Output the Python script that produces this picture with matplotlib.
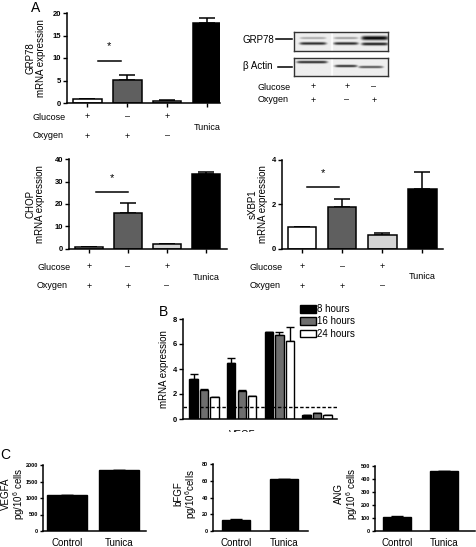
import numpy as np
import matplotlib
matplotlib.use('Agg')
import matplotlib.pyplot as plt
import matplotlib.transforms as mtransforms
from matplotlib.patches import Patch, Rectangle

plt.rcParams['font.family'] = ['Liberation Sans', 'DejaVu Sans']
plt.rcParams['mathtext.default'] = 'regular'

W, H = 477, 547

# ---- data ----
conditions = ['Glucose+/O2+', 'Glucose-/O2+', 'Glucose+/O2-', 'Tunica']
glucose_signs = ['+', '–', '+']
oxygen_signs = ['+', '+', '–']
bar_colors = ['white', '#5f5f5f', '#d4d4d4', 'black']

grp78 = [1.0, 5.2, 0.5, 17.7]
grp78_err = [0.0, 1.0, 0.15, 1.1]
chop = [1.0, 15.8, 2.0, 33.2]
chop_err = [0.0, 4.5, 0.4, 1.0]
sxbp1 = [1.0, 1.9, 0.65, 2.7]
sxbp1_err = [0.0, 0.35, 0.05, 0.75]

blot_glucose = ['+', '+', '–']
blot_oxygen = ['+', '–', '+']

hours = ['8 hours', '16 hours', '24 hours']
hour_colors = ['black', '#6e6e6e', 'white']
genes_b = ['', 'VEGF', '', '']
b_vals = [[3.2, 4.5, 6.95, 0.35],
          [2.35, 2.25, 6.7, 0.5],
          [1.8, 1.85, 6.25, 0.3]]
b_err = [[0.4, 0.35, 0.05, 0.0],
         [0.05, 0.05, 0.3, 0.0],
         [0.0, 0.0, 1.15, 0.0]]

c_groups = ['Control', 'Tunica']
vegfa = [1080, 1840]
vegfa_err = [20, 0]
bfgf = [13.5, 61.5]
bfgf_err = [1.0, 0]
ang = [105, 462]
ang_err = [8, 0]


def pos(L, R, T, B):
    return [L / W, 1 - B / H, (R - L) / W, (B - T) / H]


def fx(px):
    return px / W


def fy(py):
    return 1 - py / H


def style(ax, fs=5.5):
    for s in ['top', 'right']:
        ax.spines[s].set_visible(False)
    for s in ['left', 'bottom']:
        ax.spines[s].set_linewidth(1.1)
    ax.tick_params(axis='both', direction='out', length=3, width=1.0, pad=1)
    ax.tick_params(axis='y', labelsize=fs)
    for lab in ax.get_yticklabels():
        lab.set_fontweight('bold')


fig = plt.figure(figsize=(W / 100, H / 100), dpi=100)


def panel_a(box, xlim, vals, errs, ymax, ystep, sig, ylab, ylab_x, row_px, tun_px, lab_x):
    L, R, T, B = box
    ax = fig.add_axes(pos(L, R, T, B))
    x = np.arange(4)
    ax.bar(x, vals, width=0.72, color=bar_colors, edgecolor='black', linewidth=1.1, zorder=2)
    ax.errorbar(x, vals, yerr=[np.zeros(4), errs], fmt='none', ecolor='black',
                elinewidth=1.1, capsize=6, capthick=1.1, zorder=1)
    ax.set_xlim(*xlim)
    ax.set_ylim(0, ymax)
    ax.set_yticks(np.arange(0, ymax + 0.01, ystep))
    ax.set_xticks(x)
    ax.set_xticklabels([])
    style(ax)
    # significance bar
    (x0, x1, yl, ys) = sig
    ax.plot([x0, x1], [yl, yl], color='black', lw=1.1)
    ax.text((x0 + x1) / 2, ys, '*', ha='center', va='center', fontsize=8)
    # y label
    fig.text(fx(ylab_x), fy((T + B) / 2), ylab, rotation=90, ha='center', va='center',
             fontsize=7, linespacing=1.0)
    # condition rows
    tr = mtransforms.blended_transform_factory(ax.transData, fig.transFigure)
    gy, oy = row_px
    fig.text(fx(lab_x), fy(gy), 'Glucose', ha='left', va='center', fontsize=6.5)
    fig.text(fx(lab_x), fy(oy), 'Oxygen', ha='left', va='center', fontsize=6.5)
    for i in range(3):
        ax.text(i, fy(gy), glucose_signs[i], transform=tr, ha='center', va='center', fontsize=6.5)
        ax.text(i, fy(oy), oxygen_signs[i], transform=tr, ha='center', va='center', fontsize=6.5)
    ax.text(3, fy(tun_px), 'Tunica', transform=tr, ha='center', va='center', fontsize=6.5)
    return ax


panel_a((67, 220, 13, 103), (-0.51, 3.33), grp78, grp78_err, 20, 5,
        (0.26, 0.85, 9.4, 12.6), 'GRP78\nmRNA expression', 36, (117, 136), 127, 33)
panel_a((69, 227, 159, 249), (-0.51, 3.54), chop, chop_err, 40, 10,
        (0.18, 1.0, 25.3, 31.5), 'CHOP\nmRNA expression', 35, (267, 286), 278, 37)
panel_a((282, 443, 160, 249), (-0.5, 3.52), sxbp1, sxbp1_err, 4, 2,
        (0.12, 0.92, 2.8, 3.4), 'sXBP1\nmRNA expression', 258, (267, 286), 277, 250)

fig.text(fx(36), fy(8), 'A', ha='center', va='center', fontsize=10)

# ---- western blot ----
blot_lanes = [313, 347, 374]
grp_bands = [  # (lane center, y, half width, thickness, intensity)
    (313, 38, 13, 1.3, 0.35), (313, 43.5, 13, 1.5, 0.85),
    (346, 38, 12, 1.3, 0.4), (346, 43.5, 12, 1.5, 0.85),
    (375, 38, 13, 2.2, 1.0), (375, 44, 13, 1.6, 0.9)]
actin_bands = [(312, 62, 15, 1.4, 0.85), (346, 66, 11, 1.3, 0.85), (371, 67, 12, 1.3, 0.7)]


def blot(T, B, bands):
    ax = fig.add_axes(pos(294, 388, T, B))
    xs = np.linspace(294, 388, 300)
    ys = np.linspace(T, B, 80)
    X, Y = np.meshgrid(xs, ys)
    img = np.full(X.shape, 0.07)
    for cx, cy, hw, th, inten in bands:
        prof_x = 1 / (1 + np.exp((np.abs(X - cx) - hw) / 1.2))
        prof_y = np.exp(-((Y - cy) / th) ** 2)
        img = np.maximum(img, inten * prof_x * prof_y)
    img[:, np.abs(xs - 332) < 0.7] = 0.0
    ax.imshow(img, cmap='gray_r', vmin=0, vmax=1, extent=(294, 388, B, T), aspect='auto',
              interpolation='bilinear')
    ax.set_xticks([])
    ax.set_yticks([])
    for s in ax.spines.values():
        s.set_linewidth(1.0)
        s.set_color('#333333')
    return ax


blot(32, 51, grp_bands)
blot(58, 76, actin_bands)
fig.text(fx(243), fy(40), 'GRP78', ha='left', va='center', fontsize=7)
fig.text(fx(243), fy(66), 'β Actin', ha='left', va='center', fontsize=7)
fig.add_artist(plt.Line2D([fx(276), fx(292)], [fy(39), fy(39)], color='black', lw=1.1))
fig.add_artist(plt.Line2D([fx(278), fx(292)], [fy(67), fy(67)], color='black', lw=1.1))
fig.text(fx(258), fy(87), 'Glucose', ha='left', va='center', fontsize=6.5)
fig.text(fx(258), fy(100), 'Oxygen', ha='left', va='center', fontsize=6.5)
for lx, g, o in zip(blot_lanes, blot_glucose, blot_oxygen):
    fig.text(fx(lx), fy(87), g, ha='center', va='center', fontsize=6.5)
    fig.text(fx(lx), fy(100), o, ha='center', va='center', fontsize=6.5)

# ---- panel B ----
axb = fig.add_axes(pos(183, 337, 319, 419))
xg = np.arange(4)
offs = [-0.28, 0.0, 0.28]
for k in range(3):
    axb.bar(xg + offs[k], b_vals[k], width=0.22, color=hour_colors[k], edgecolor='black',
            linewidth=1.0, zorder=2)
    axb.errorbar(xg + offs[k], b_vals[k], yerr=[np.zeros(4), b_err[k]], fmt='none',
                 ecolor='black', elinewidth=1.0, capsize=3, capthick=1.0, zorder=1)
axb.axhline(1, color='black', lw=1.0, ls=(0, (2.5, 1.5)), zorder=3)
axb.set_xlim(-0.56, 3.53)
axb.set_ylim(0, 8)
axb.set_yticks([0, 2, 4, 6, 8])
axb.set_xticks(xg)
axb.set_xticklabels(genes_b, fontsize=7)
style(axb)
axb.tick_params(axis='x', length=0, pad=8)
fig.text(fx(164), fy(369), 'mRNA expression', rotation=90, ha='center', va='center', fontsize=7)
fig.text(fx(163), fy(312), 'B', ha='center', va='center', fontsize=10)
handles = [Patch(facecolor=c, edgecolor='black', linewidth=1.0) for c in hour_colors]
fig.legend(handles, hours, loc='upper left', bbox_to_anchor=(fx(300), fy(304)), frameon=False,
           fontsize=7, handlelength=1.6, handleheight=0.85, handletextpad=0.15,
           labelspacing=0.25, borderpad=0, borderaxespad=0)
# image is cropped just under panel B's tick labels
fig.add_artist(Rectangle((0, fy(445)), 1, fy(432) - fy(445), transform=fig.transFigure,
                         facecolor='white', edgecolor='none', zorder=10))

# ---- panel C ----


def panel_c(box, xlim, vals, errs, ymax, ystep, lab, lab_x, width):
    L, R, T, B = box
    ax = fig.add_axes(pos(L, R, T, B))
    x = np.arange(2)
    ax.bar(x, vals, width=width, color='black', edgecolor='black', zorder=2)
    ax.errorbar(x, vals, yerr=[np.zeros(2), errs], fmt='none', ecolor='black',
                elinewidth=1.0, capsize=4, capthick=1.0, zorder=1)
    ax.set_xlim(*xlim)
    ax.set_ylim(0, ymax)
    ax.set_yticks(np.arange(0, ymax + 0.01, ystep))
    ax.set_xticks(x)
    ax.set_xticklabels(c_groups, fontsize=7)
    style(ax, fs=4)
    ax.tick_params(axis='y', length=2.5)
    ax.tick_params(axis='x', length=0, pad=5)
    fig.text(fx(lab_x), fy(494), lab, rotation=90, ha='center', va='center',
             fontsize=7, linespacing=1.0)
    return ax


panel_c((43, 146, 465, 531), (-0.47, 1.53), vegfa, vegfa_err, 2000, 500,
        'VEGFA\npg/10$^6$ cells', 14, 0.78)
panel_c((213, 308, 464, 531), (-0.48, 1.5), bfgf, bfgf_err, 80, 20,
        'bFGF\npg/10$^6$cells', 186, 0.6)
panel_c((375, 475, 466, 531), (-0.47, 1.66), ang, ang_err, 500, 100,
        'ANG\npg/10$^6$ cells', 347, 0.6)
fig.text(fx(5), fy(455), 'C', ha='center', va='center', fontsize=10)

fig.savefig('out.png', dpi=100)
